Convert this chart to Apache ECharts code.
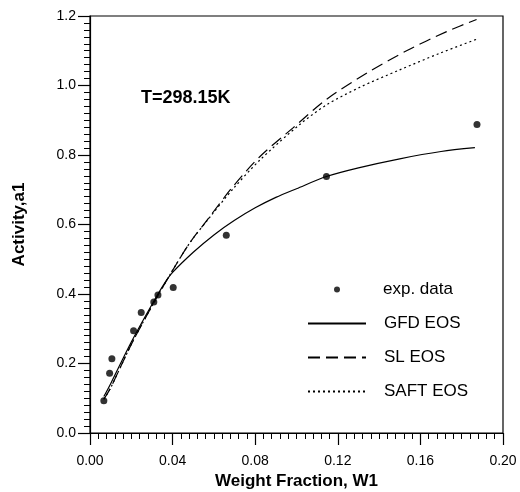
<!DOCTYPE html>
<html>
<head>
<meta charset="utf-8">
<script src="https://cdn.jsdelivr.net/npm/echarts@6/dist/echarts.min.js"></script>
<style>html,body{margin:0;padding:0;background:#fff;}#c{width:520px;height:492px;}</style>
</head>
<body>
<div id="c"></div>
<script>
var expW = [0.0067,0.0095,0.0106,0.0211,0.0248,0.0309,0.0329,0.0403,0.066,0.1145,0.1874];
var expA = [0.093,0.172,0.214,0.294,0.347,0.377,0.397,0.419,0.569,0.738,0.888];

var gfdW = [0.0067,0.01,0.02,0.03,0.036,0.04,0.05,0.06,0.07,0.08,0.09,0.10,0.1145,0.13,0.15,0.17,0.1864];
var gfdA = [0.105,0.142,0.262,0.37,0.43,0.462,0.52,0.57,0.612,0.648,0.678,0.703,0.738,0.763,0.789,0.81,0.821];

var slW = [0.0067,0.01,0.02,0.03,0.04,0.0482,0.0579,0.0692,0.0822,0.0983,0.1145,0.1339,0.1533,0.1727,0.1872];
var slA = [0.097,0.13,0.255,0.365,0.468,0.546,0.622,0.709,0.795,0.878,0.96,1.035,1.10,1.155,1.19];

var saftW = [0.0067,0.01,0.02,0.03,0.04,0.0482,0.0579,0.0692,0.0822,0.1016,0.1145,0.1307,0.15,0.1695,0.1872];
var saftA = [0.097,0.13,0.255,0.365,0.468,0.546,0.62,0.702,0.785,0.888,0.944,0.995,1.045,1.093,1.133];

var xTicks = ['0.00','0.04','0.08','0.12','0.16','0.20'];
var yTicks = ['0.0','0.2','0.4','0.6','0.8','1.0','1.2'];

function zip(a, b) { return a.map(function (v, i) { return [v, b[i]]; }); }

var FONT = 'Liberation Sans, Arial, sans-serif';
var chart = echarts.init(document.getElementById('c'));
chart.setOption({
  animation: false,
  backgroundColor: '#fff',
  grid: { left: 90, right: 17, top: 16, bottom: 59, show: true, borderColor: '#000', borderWidth: 1.2, backgroundColor: 'transparent', outerBoundsMode: 'none', containLabel: false },
  title: {
    text: 'T=298.15K', left: 141, top: 89, padding: 0,
    textStyle: { fontFamily: FONT, fontSize: 18, fontWeight: 'bold', color: '#000' }
  },
  legend: [
    {
      orient: 'vertical', left: 334, top: 281, padding: 0,
      itemWidth: 6, itemHeight: 6,
      data: [{ name: 'exp. data', icon: 'circle' }],
      textStyle: { fontFamily: FONT, fontSize: 17, color: '#000', padding: [0, 0, 0, 38] }
    },
    {
      orient: 'vertical', left: 307, top: 315, padding: 0,
      itemWidth: 58, itemHeight: 14, itemGap: 17,
      itemStyle: { opacity: 0, borderWidth: 0 },
      data: ['GFD EOS', 'SL EOS', 'SAFT EOS'],
      textStyle: { fontFamily: FONT, fontSize: 17, color: '#000', padding: [0, 0, 0, 13] }
    }
  ],
  xAxis: {
    type: 'value', min: 0, max: 0.2, interval: 0.04,
    name: 'Weight Fraction, W1', nameLocation: 'middle', nameGap: 40,
    nameTextStyle: { fontFamily: FONT, fontSize: 17, fontWeight: 'bold', color: '#000' },
    axisLine: { lineStyle: { color: '#000', width: 1.2 } },
    axisTick: { length: 12, lineStyle: { color: '#000', width: 1.2 } },
    minorTick: { show: true, splitNumber: 10, length: 6, lineStyle: { color: '#000', width: 1 } },
    splitLine: { show: false },
    axisLabel: {
      margin: 21, fontFamily: FONT, fontSize: 14, color: '#000',
      formatter: function (v) { return xTicks[Math.round(v / 0.04)]; }
    }
  },
  yAxis: {
    type: 'value', min: 0, max: 1.2, interval: 0.2,
    name: 'Activity,a1', nameLocation: 'middle', nameGap: 62,
    nameTextStyle: { fontFamily: FONT, fontSize: 17, fontWeight: 'bold', color: '#000' },
    axisLine: { lineStyle: { color: '#000', width: 1.2 } },
    axisTick: { length: 12, lineStyle: { color: '#000', width: 1.2 } },
    minorTick: { show: true, splitNumber: 10, length: 6, lineStyle: { color: '#000', width: 1 } },
    splitLine: { show: false },
    axisLabel: {
      margin: 14, fontFamily: FONT, fontSize: 14, color: '#000',
      formatter: function (v) { return yTicks[Math.round(v / 0.2)]; }
    }
  },
  series: [
    {
      name: 'exp. data', type: 'scatter', data: zip(expW, expA),
      symbol: 'circle', symbolSize: 7, itemStyle: { color: '#000' }, z: 5
    },
    {
      name: 'GFD EOS', type: 'line', data: zip(gfdW, gfdA), smooth: 0.3,
      symbol: 'none', itemStyle: { color: '#000' },
      lineStyle: { color: '#000', width: 1.2, type: 'solid' }
    },
    {
      name: 'SL EOS', type: 'line', data: zip(slW, slA), smooth: 0.3,
      symbol: 'none', itemStyle: { color: '#000' },
      lineStyle: { color: '#000', width: 1.2, type: [12, 6] }
    },
    {
      name: 'SAFT EOS', type: 'line', data: zip(saftW, saftA), smooth: 0.3,
      symbol: 'none', itemStyle: { color: '#000' },
      lineStyle: { color: '#000', width: 1.2, type: [2, 3] }
    }
  ]
});
</script>
</body>
</html>
